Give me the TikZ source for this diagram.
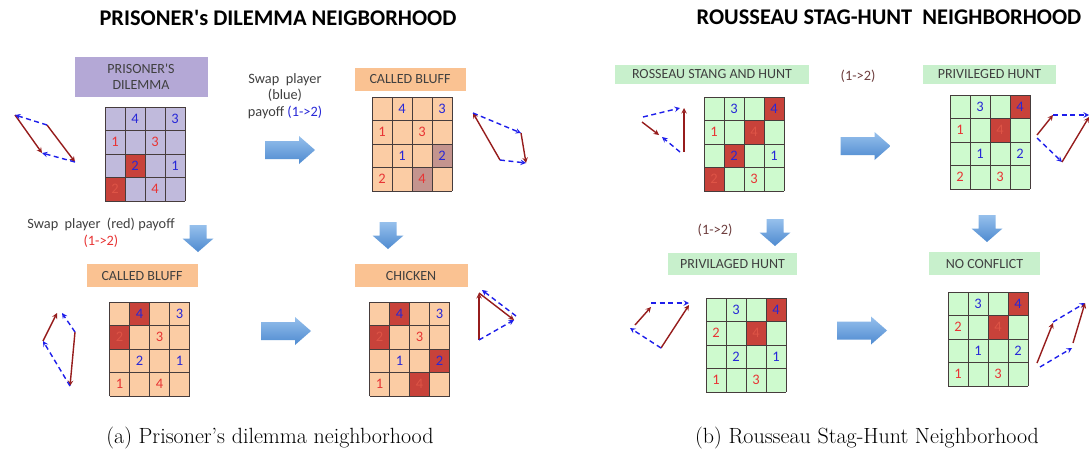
\documentclass[tikz,border=0pt]{standalone}
\usepackage{fontspec}
\newfontfamily\calibri{Carlito}
\usetikzlibrary{arrows}

\definecolor{labelgray}{RGB}{64,64,64}
\definecolor{gridgray}{RGB}{70,60,60}
\definecolor{pdpurple}{RGB}{180,168,214}
\definecolor{pdcell}{RGB}{192,186,220}
\definecolor{cborange}{RGB}{250,194,146}
\definecolor{cbcell}{RGB}{251,204,164}
\definecolor{shgreen}{RGB}{200,240,204}
\definecolor{shcell}{RGB}{206,250,206}
\definecolor{eqred}{RGB}{200,66,58}
\definecolor{eqmute}{RGB}{196,148,142}
\definecolor{pblue}{RGB}{40,40,215}
\definecolor{pred}{RGB}{232,52,52}
\definecolor{ghostred}{RGB}{222,84,70}
\definecolor{respred}{RGB}{150,28,28}
\definecolor{respblue}{RGB}{30,30,235}
\definecolor{arrlight}{RGB}{150,192,236}
\definecolor{arrdark}{RGB}{78,138,208}
\definecolor{swapbrown}{RGB}{110,62,62}

% 4x4 payoff grid: #1 name, #2 top-left corner, #3 cell colour,
% #4 shaded cells (col/row/colour), #5 payoffs (col/row/colour/value)
\newcommand{\payoffgrid}[5]{%
  \begin{scope}[shift={#2}]
    \fill[#3] (0,0) rectangle (80,94);
    \foreach \c/\r/\m in {#4} \fill[\m] (\c*20-20,\r*23.5-23.5) rectangle ++(20,23.5);
    \foreach \i in {0,...,4} {
      \draw[gridline] (\i*20,0) -- (\i*20,94);
      \draw[gridline] (0,\i*23.5) -- (80,\i*23.5);
    }
    \foreach \c/\r/\p/\v in {#5}
      \node[payoff,text=\p] (#1-\c-\r) at (\c*20-10,\r*23.5-11.75) {\v};
  \end{scope}}

\begin{document}
\begin{tikzpicture}[x=1pt,y=-1pt,>=stealth,
  gridline/.style={draw=gridgray,line width=0.9pt},
  payoff/.style={font=\calibri\fontsize{14.5}{14.5}\selectfont,inner sep=0pt},
  namebox/.style={font=\calibri\fontsize{14}{16.5}\selectfont,text=labelgray,align=center,inner sep=0pt},
  heading/.style={font=\calibri\bfseries\fontsize{22.4}{24}\selectfont,text=black,inner sep=0pt},
  note/.style={font=\calibri\fontsize{14.3}{16.5}\selectfont,text=labelgray,align=center,inner sep=0pt},
  subcap/.style={font=\fontsize{22}{26}\selectfont,inner sep=0pt,anchor=base},
  bestresp/.style={->,draw=respred,line width=1.4pt},
  altresp/.style={->,draw=respblue,line width=1.4pt,dash pattern=on 5pt off 3.5pt},
  rarrow/.pic={\shade[top color=arrlight,bottom color=arrdark]
    (-25,-9) -- (9,-9) -- (9,-14) -- (25,0) -- (9,14) -- (9,9) -- (-25,9) -- cycle;},
  darrow/.pic={\shade[top color=arrlight,bottom color=arrdark]
    (-8.5,-13.5) -- (8.5,-13.5) -- (8.5,0) -- (15.5,0) -- (0,13.5) -- (-15.5,0) -- (-8.5,0) -- cycle;}]
\useasboundingbox[fill=white] (0,0) rectangle (1089,451);

%% prisoner's dilemma side
\node[heading] (pdtitle) at (278,18) {PRISONER's DILEMMA NEIGBORHOOD};

\node[namebox,fill=pdpurple,minimum width=133,minimum height=40] (pd) at (141,77) {PRISONER'S\\DILEMMA};
\payoffgrid{pdg}{(105,107)}{pdcell}{2/3/eqred,1/4/eqred}
  {2/1/pblue/4,4/1/pblue/3,1/2/pred/1,3/2/pred/3,2/3/pblue/2,4/3/pblue/1,1/4/ghostred/2,3/4/pred/4}

\node[note] (swapb) at (285,96) {Swap\ \ player\\(blue)\\payoff {\color{pblue}(1->2)}};
\pic at (290,150) {rarrow};

\node[namebox,fill=cborange,minimum width=111,minimum height=23] (cb) at (410,79.5) {CALLED BLUFF};
\payoffgrid{cbg}{(372,97)}{cbcell}{4/3/eqmute,3/4/eqmute}
  {2/1/pblue/4,4/1/pblue/3,1/2/pred/1,3/2/pred/3,2/3/pblue/1,4/3/pblue/2,1/4/pred/2,3/4/pred/4}

\node[note] (swapr) at (101,233) {Swap\ \ player\ \ (red) payoff\\{\color{pred}(1->2)}};
\pic at (198,238.5) {darrow};
\pic at (388,235.5) {darrow};

\node[namebox,fill=cborange,minimum width=111,minimum height=23] (cbb) at (142,275.5) {CALLED BLUFF};
\payoffgrid{cbbg}{(109.5,302)}{cbcell}{2/1/eqred,1/2/eqred}
  {2/1/pblue/4,4/1/pblue/3,1/2/ghostred/2,3/2/pred/3,2/3/pblue/2,4/3/pblue/1,1/4/pred/1,3/4/pred/4}
\pic at (286,331) {rarrow};

\node[namebox,fill=cborange,minimum width=113,minimum height=23] (ch) at (411,275.5) {CHICKEN};
\payoffgrid{chg}{(369.5,302)}{cbcell}{2/1/eqred,1/2/eqred,4/3/eqred,3/4/eqred}
  {2/1/pblue/4,4/1/pblue/3,1/2/ghostred/2,3/2/pred/3,2/3/pblue/1,4/3/pblue/2,1/4/pred/1,3/4/ghostred/4}

% best response cycles
\coordinate (a1) at (15,115); \coordinate (a2) at (47,125);
\coordinate (a3) at (42,153); \coordinate (a4) at (75,162);
\draw[bestresp] (a1) -- (a3);
\draw[bestresp] (a2) -- (a4);
\draw[altresp] (a2) -- (a1);
\draw[altresp] (a4) -- (a3);

\coordinate (b1) at (473,113); \coordinate (b2) at (521,133);
\coordinate (b3) at (500,160); \coordinate (b4) at (526,163);
\draw[bestresp] (b3) -- (b1);
\draw[bestresp] (b2) -- (b4);
\draw[altresp] (b1) -- (b2);
\draw[altresp] (b3) -- (b4);

\coordinate (c1) at (57,313); \coordinate (c2) at (62,313);
\coordinate (c3) at (43,341); \coordinate (c4) at (75,332);
\coordinate (c5) at (70,386);
\draw[bestresp] (c3) -- (c1);
\draw[bestresp] (c4) -- (c5);
\draw[altresp] (c4) -- (c2);
\draw[altresp] (c5) -- (c3);

\coordinate (d1) at (479,293); \coordinate (d2) at (514,320);
\coordinate (d3) at (479,340); \coordinate (d4) at (516,316);
\coordinate (d5) at (482,290);
\draw[bestresp] (d3) -- (d1);
\draw[bestresp] (d1) -- (d2);
\draw[altresp] (d4) -- (d5);
\draw[altresp] (d3) -- (d2);

%% stag hunt side
\node[heading] (shtitle) at (889,17) {ROUSSEAU STAG-HUNT\ \ NEIGHBORHOOD};

\node[namebox,fill=shgreen,minimum width=194,minimum height=19] (sh) at (712,74.5) {ROSSEAU STANG AND HUNT};
\payoffgrid{shg}{(704,97)}{shcell}{4/1/eqred,3/2/eqred,2/3/eqred,1/4/eqred}
  {2/1/pblue/3,4/1/pblue/4,1/2/pred/1,3/2/ghostred/4,2/3/pblue/2,4/3/pblue/1,1/4/ghostred/2,3/4/pred/3}

\node[note,text=swapbrown] (swapt) at (858,76) {(1->2)};
\pic at (865.5,146) {rarrow};

\node[namebox,fill=shgreen,minimum width=133,minimum height=19] (ph) at (989.5,74.5) {PRIVILEGED HUNT};
\payoffgrid{phg}{(950,95)}{shcell}{4/1/eqred,3/2/eqred}
  {2/1/pblue/3,4/1/pblue/4,1/2/pred/1,3/2/ghostred/4,2/3/pblue/1,4/3/pblue/2,1/4/pred/2,3/4/pred/3}

\node[note,text=swapbrown] (swapl) at (715,230) {(1->2)};
\pic at (775,232.5) {darrow};
\pic at (987,228.5) {darrow};

\node[namebox,fill=shgreen,minimum width=129,minimum height=22] (pl) at (732.5,264) {PRIVILAGED HUNT};
\payoffgrid{plg}{(706,298)}{shcell}{4/1/eqred,3/2/eqred}
  {2/1/pblue/3,4/1/pblue/4,1/2/pred/2,3/2/ghostred/4,2/3/pblue/2,4/3/pblue/1,1/4/pred/1,3/4/pred/3}
\pic at (862,330.5) {rarrow};

\node[namebox,fill=shgreen,minimum width=111,minimum height=23] (nc) at (984.5,263.5) {NO CONFLICT};
\payoffgrid{ncg}{(948,292)}{shcell}{4/1/eqred,3/2/eqred}
  {2/1/pblue/3,4/1/pblue/4,1/2/pred/2,3/2/ghostred/4,2/3/pblue/1,4/3/pblue/2,1/4/pred/1,3/4/pred/3}

% best response cycles
\coordinate (e1) at (643,117); \coordinate (e2) at (680,108);
\coordinate (e3) at (684,152); \coordinate (e4) at (684,108);
\coordinate (e5) at (642,122); \coordinate (e6) at (659,135);
\coordinate (e7) at (680,152); \coordinate (e8) at (662,137);
\draw[altresp] (e1) -- (e2);
\draw[bestresp] (e3) -- (e4);
\draw[bestresp] (e5) -- (e6);
\draw[altresp] (e7) -- (e8);

\coordinate (f1) at (1037,135); \coordinate (f2) at (1053,115);
\coordinate (f3) at (1089,115); \coordinate (f4) at (1037,138);
\coordinate (f5) at (1062,162); \coordinate (f6) at (1089,117);
\draw[bestresp] (f1) -- (f2);
\draw[altresp] (f2) -- (f3);
\draw[altresp] (f4) -- (f5);
\draw[bestresp] (f5) -- (f6);

\coordinate (h1) at (635,325); \coordinate (h2) at (651,307);
\coordinate (h3) at (651,303); \coordinate (h4) at (689,303);
\coordinate (h5) at (661,348); \coordinate (h6) at (689,305);
\coordinate (h7) at (630,328);
\draw[bestresp] (h1) -- (h2);
\draw[altresp] (h3) -- (h4);
\draw[bestresp] (h5) -- (h6);
\draw[altresp] (h5) -- (h7);

\coordinate (k1) at (1037,363); \coordinate (k2) at (1053,323);
\coordinate (k3) at (1053,322); \coordinate (k4) at (1085,303);
\coordinate (k5) at (1040,367); \coordinate (k6) at (1072,348);
\coordinate (k7) at (1073,343);
\draw[bestresp] (k1) -- (k2);
\draw[altresp] (k3) -- (k4);
\draw[altresp] (k5) -- (k6);
\draw[bestresp] (k7) -- (k4);

%% subfigure captions
\node[subcap] (capa) at (270,443) {(a) Prisoner's dilemma neighborhood};
\node[subcap] (capb) at (867,443) {(b) Rousseau Stag-Hunt Neighborhood};
\end{tikzpicture}
\end{document}
